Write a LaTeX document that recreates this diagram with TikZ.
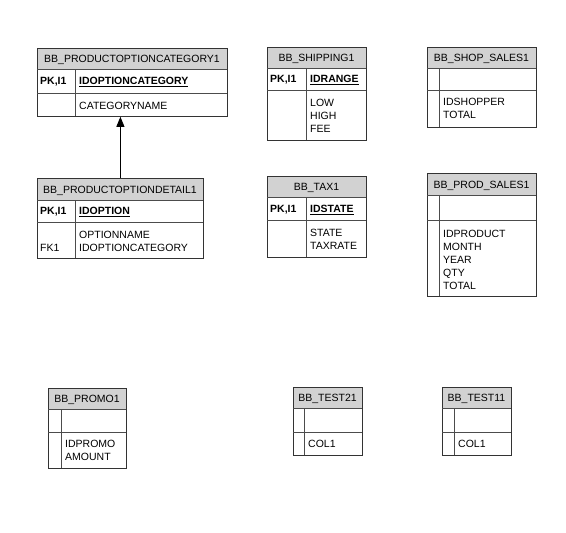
\documentclass[tikz,border=0pt]{standalone}
\usepackage{fontspec}
\setmainfont{Liberation Sans}
\usepackage{tikz}
\usetikzlibrary{positioning,arrows.meta}

% table frame: name, x0, y0, x1, y1 (header bottom), y2 (key bottom), y3 (bottom), xd (column), title
\newcommand{\entity}[9]{%
  \fill[hdrfill] (#2,#3) rectangle (#4,#5);
  \node[tbox, minimum width=#4-#2, minimum height=#7-#3] (#1) at (#2,#3) {};
  \draw[grid] (#2,#5) -- (#4,#5);
  \draw[grid] (#2,#6) -- (#4,#6);
  \draw[grid] (#8,#5) -- (#8,#7);
  \node[txt, anchor=base] (#1-title) at ({(#2+#4)/2},{#5-6.8}) {#9};
}

\begin{document}
\begin{tikzpicture}[
    x=1pt, y=-1pt,
    hdrfill/.style={fill=gray!35},
    tbox/.style={draw=black!80, line width=0.8pt, anchor=north west, inner sep=0pt},
    grid/.style={draw=black!70, line width=0.8pt},
    txt/.style={inner sep=0pt, font=\fontsize{10.5}{13}\selectfont},
    attr/.style={txt, anchor=base west, align=left},
    pkey/.style={txt, anchor=base west, font=\fontsize{10.5}{13}\selectfont\bfseries},
    line/.style={-{Triangle[length=10pt, width=8pt]}, line width=0.8pt}
]
\useasboundingbox (0,0) rectangle (566,533);

% top left pair (attr nodes sit on the baseline of their last line)
\entity{cat}{37}{48}{227}{69}{93}{116}{75}{BB\_PRODUCTOPTIONCATEGORY1}
\node[pkey] (cat-pk) at (40,84.8) {PK,I1};
\node[pkey] (cat-key) at (79,84.8) {\underline{IDOPTIONCATEGORY}};
\node[attr] (cat-attr) at (79,109.3) {CATEGORYNAME};

\entity{det}{37}{178}{203}{200}{222}{258}{75}{BB\_PRODUCTOPTIONDETAIL1}
\node[pkey] (det-pk) at (40,214.8) {PK,I1};
\node[pkey] (det-key) at (79,214.8) {\underline{IDOPTION}};
\node[attr] (det-attr) at (79,251.3) {OPTIONNAME\\IDOPTIONCATEGORY};
\node[attr] (det-fk) at (40,251.3) {FK1};

% middle column
\entity{ship}{267}{47}{366}{68}{90}{140}{306}{BB\_SHIPPING1}
\node[pkey] (ship-pk) at (270,82.8) {PK,I1};
\node[pkey] (ship-key) at (310,82.8) {\underline{IDRANGE}};
\node[attr] (ship-attr) at (310,132.6) {LOW\\HIGH\\FEE};

\entity{tax}{267}{176}{366}{197}{220}{257}{306}{BB\_TAX1}
\node[pkey] (tax-pk) at (270,212.3) {PK,I1};
\node[pkey] (tax-key) at (310,212.3) {\underline{IDSTATE}};
\node[attr] (tax-attr) at (310,249.4) {STATE\\TAXRATE};

% right column
\entity{shop}{427}{47}{536}{68}{90}{127}{439}{BB\_SHOP\_SALES1}
\node[attr] (shop-attr) at (443,118.6) {IDSHOPPER\\TOTAL};

\entity{prod}{427}{173}{536}{195}{220}{296}{439}{BB\_PROD\_SALES1}
\node[attr] (prod-attr) at (443,289) {IDPRODUCT\\MONTH\\YEAR\\QTY\\TOTAL};

% bottom row
\entity{promo}{48}{388}{126}{409}{432}{468}{61}{BB\_PROMO1}
\node[attr] (promo-attr) at (65,460) {IDPROMO\\AMOUNT};

\entity{testb}{293}{387}{362}{408}{432}{455}{304}{BB\_TEST21}
\node[attr] (testb-attr) at (308,447) {COL1};

\entity{testa}{442}{387}{511}{408}{432}{455}{454}{BB\_TEST11}
\node[attr] (testa-attr) at (458,447) {COL1};

\draw[line] (det.north) -- (det.north |- cat.south);
\end{tikzpicture}
\end{document}
